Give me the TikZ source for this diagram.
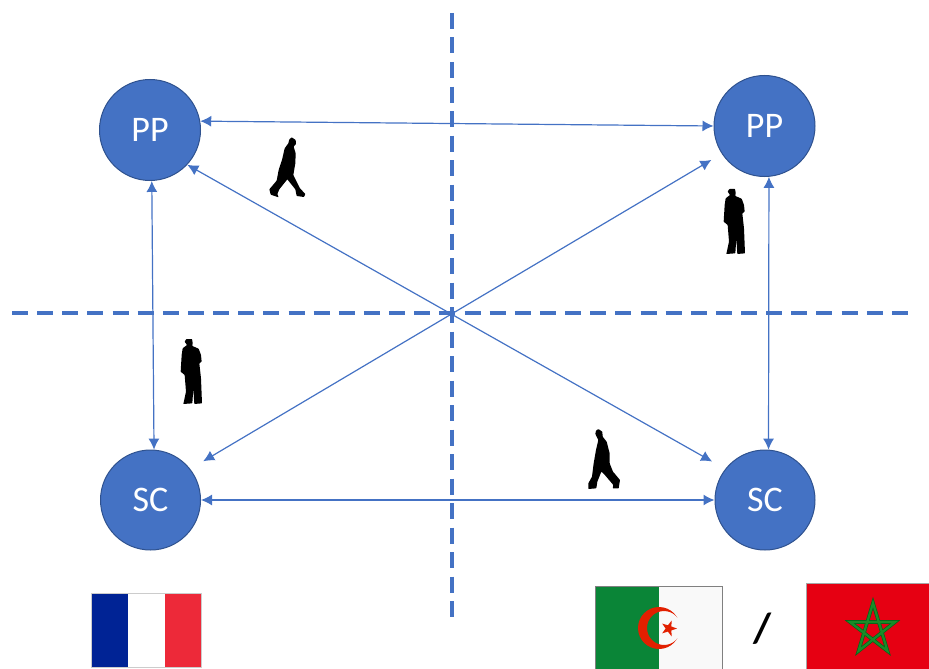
\documentclass[tikz,border=0pt]{standalone}
\usepackage{fontspec}
\setmainfont{Carlito}
\usetikzlibrary{arrows.meta}
\definecolor{bl}{HTML}{4472C4}
\definecolor{bd}{HTML}{2F528F}
\tikzset{
  circ/.style={circle,draw=bd,line width=1pt,fill=bl,text=white,minimum size=#1,inner sep=0pt,font=\fontsize{36}{36}\selectfont},
  link/.style={bl,line width=1.2pt,{Latex[length=11pt,width=11pt]}-{Latex[length=11pt,width=11pt]}},
  axis/.style={bl,line width=3.2pt},
  sil/.style={fill=black,rounded corners=0.5pt,shift={(#1)},scale=0.3333}
}
\begin{document}
\begin{tikzpicture}[x=1pt,y=-1pt]
\useasboundingbox (0,0) rectangle (929,669);
\coordinate (vt) at (452,13); \coordinate (vb) at (452,617);
\coordinate (hl) at (12,313); \coordinate (hr) at (908,313);
\draw[axis,dash pattern=on 16pt off 8.5pt] (vt) -- (vb);
\draw[axis,dash pattern=on 16pt off 9.14pt] (hl) -- (hr);
\node[circ=101pt] (ppl) at (150,130) {PP};
\node[circ=101pt] (ppr) at (764.5,126) {PP};
\node[circ=100pt] (scl) at (150.5,500) {SC};
\node[circ=100pt] (scr) at (765,500) {SC};
\draw[link] (ppl.10) -- (ppr.180);
\draw[link] (ppl.-88) -- (scl.86);
\draw[link] (ppr.-85) -- (scr.86);
\draw[link] (scl.0) -- (scr.180);
\draw[link,shorten >=15pt] (ppl.-43) -- (scr.142);
\draw[link,shorten <=12pt,shorten >=15pt] (ppr.213) -- (scl.38);
% walking figures
\fill[sil={250,120}] (125,52)--(137,60)--(138,72)--(131,80)--(137,100)--(136,130)--(130,165)--(150,205)--(166,222)--(162,231)--(140,228)--(136,208)--(112,178)--(88,208)--(82,222)--(86,232)--(62,224)--(58,208)--(80,182)--(86,150)--(96,120)--(104,85)--(115,70)--(118,58)--cycle;
\fill[sil={570,420}] (85,27)--(97,35)--(98,50)--(110,65)--(119,100)--(119,130)--(129,155)--(150,180)--(146,205)--(128,205)--(130,195)--(102,162)--(94,155)--(82,185)--(79,205)--(55,207)--(55,190)--(66,170)--(71,130)--(78,90)--(85,60)--(76,42)--(78,32)--cycle;
% standing figures
\fill[sil={700,170}] (88,57)--(105,57)--(107,68)--(106,78)--(125,86)--(132,105)--(134,125)--(127,130)--(132,175)--(135,250)--(112,252)--(109,205)--(106,250)--(79,252)--(87,215)--(83,165)--(71,155)--(74,105)--(77,85)--(90,75)--(83,65)--cycle;
\fill[sil={157,320}] (88,57)--(105,57)--(107,68)--(106,78)--(125,86)--(132,105)--(134,125)--(127,130)--(132,175)--(135,250)--(112,252)--(109,205)--(106,250)--(79,252)--(87,215)--(83,165)--(71,155)--(74,105)--(77,85)--(90,75)--(83,65)--cycle;
% France
\fill[fill={rgb,255:red,0;green,35;blue,149}] (91,593) rectangle (128,667);
\fill[white] (128,593) rectangle (165,667);
\fill[fill={rgb,255:red,237;green,41;blue,57}] (165,593) rectangle (201,667);
\draw[gray!40,line width=0.6pt] (91,593) rectangle (201,667);
% Algeria
\fill[fill={rgb,255:red,10;green,133;blue,55}] (595,586) rectangle (658.5,669);
\fill[fill={rgb,255:red,249;green,249;blue,249}] (658.5,586) rectangle (722,669);
\begin{scope}
\clip (630,600) rectangle (677,655);
\fill[fill={rgb,255:red,226;green,32;blue,0},even odd rule] (659,628) circle[radius=21] (664,628) circle[radius=17];
\end{scope}
\fill[fill={rgb,255:red,226;green,32;blue,0}] (677,628.5)--(671.4,630.4)--(671.6,636.4)--(667.9,631.6)--(662.2,633.3)--(665.6,628.5)--(662.2,623.6)--(667.9,625.3)--(671.6,620.6)--(671.4,626.5)--cycle;
\draw[gray,line width=0.8pt] (595,669) -- (595,586) -- (722,586) -- (722,669);
% slash
\node[font=\bfseries\fontsize{42}{42}\selectfont] (sl) at (763,629) {/};
% Morocco
\fill[fill={rgb,255:red,230;green,0;blue,18}] (806,583) rectangle (929,669);
\draw[gray!70,line width=0.7pt] (806,669) -- (806,583) -- (929,583);
\draw[draw={rgb,255:red,5;green,100;blue,25},line width=3.6pt,line join=miter] (873,603)--(887.5,651)--(850,622)--(895,622)--(858.5,651)--cycle;
\draw[draw={rgb,255:red,25;green,140;blue,40},line width=2.2pt,line join=miter] (873,603)--(887.5,651)--(850,622)--(895,622)--(858.5,651)--cycle;
\end{tikzpicture}
\end{document}
